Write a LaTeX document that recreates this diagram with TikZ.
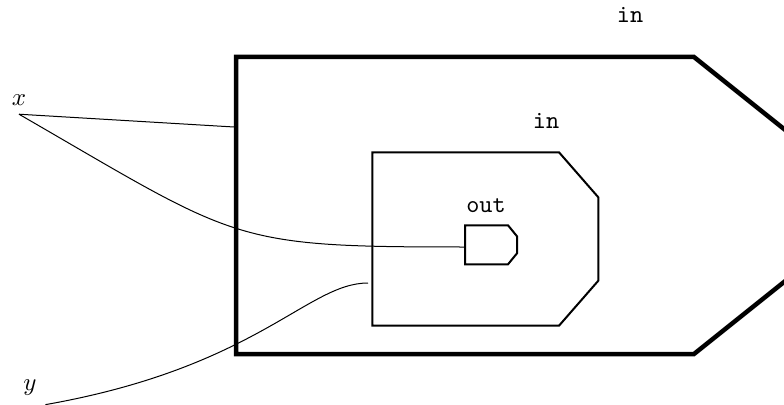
\documentclass[tikz,border=0pt]{standalone}

\begin{document}
\begin{tikzpicture}[x=0.4pt, y=0.4pt,
	lbl/.style={font=\ttfamily, inner sep=0pt}]
	\clip (0,0) rectangle (784,-405);
	% blocchi
	\draw[line width=1.8pt] (236,-57) -- (694,-57) -- (794,-137) -- (794,-274) -- (694,-354) -- (236,-354) -- cycle;
	\draw[line width=0.8pt] (372.3,-152.3) -- (559,-152.3) -- (598.3,-197.3) -- (598.3,-280.7) -- (559,-325.7) -- (372.3,-325.7) -- cycle;
	\draw[line width=0.8pt] (465,-225.3) -- (508,-225.3) -- (517,-236.3) -- (517,-253.3) -- (508,-264.3) -- (465,-264.3) -- cycle;
	
	% etichette
	\node[lbl] (biglbl) at (630,-15) {in};
	\node[lbl] (midlbl) at (546,-121) {in};
	\node[lbl] (outlbl) at (486,-206) {out};
	\node (x) at (19,-100) {$x$};
	\node (y) at (30,-388) {$y$};
	
	% porte
	\coordinate (bigin) at (234,-127);
	\coordinate (outin) at (464.6,-247);
	\coordinate (midin) at (368,-283);
	
	% collegamenti
	\draw (x.south) -- (bigin);
	\draw (x.south) to[out=-30, in=180, out looseness=1.4, in looseness=1.3] (outin);
	\draw (y.south east) to[out=10, in=180, out looseness=1.6, in looseness=0.45] (midin);
\end{tikzpicture}
\end{document}
